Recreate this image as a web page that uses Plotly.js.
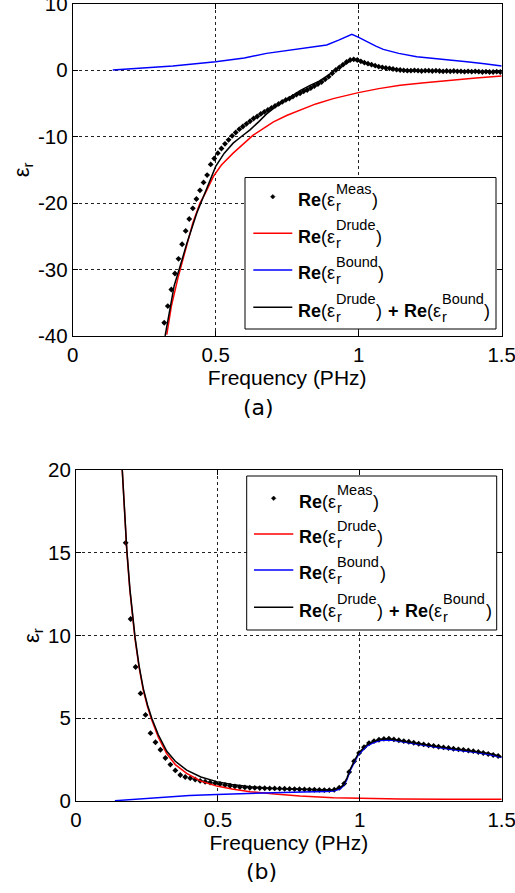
<!DOCTYPE html>
<html><head><meta charset="utf-8">
<script src="https://cdn.plot.ly/plotly-3.0.1.min.js"></script>
<style>html,body{margin:0;padding:0;background:#fff}#chart{width:515px;height:893px}</style>
</head><body><div id="chart"></div>
<script>
// ---------- Panel (a): real part, measured ----------
const freqMeasA = [0.3200,0.3325,0.3450,0.3575,0.3700,0.3825,0.3950,0.4075,0.4200,0.4325,
0.4450,0.4575,0.4700,0.4825,0.4950,0.5075,0.5200,0.5325,0.5450,0.5575,
0.5700,0.5825,0.5950,0.6075,0.6200,0.6325,0.6450,0.6575,0.6700,0.6825,
0.6950,0.7075,0.7200,0.7325,0.7450,0.7575,0.7700,0.7825,0.7950,0.8075,
0.8200,0.8325,0.8450,0.8575,0.8700,0.8825,0.8950,0.9075,0.9200,0.9325,
0.9450,0.9575,0.9700,0.9825,0.9950,1.0075,1.0200,1.0325,1.0450,1.0575,
1.0700,1.0825,1.0950,1.1075,1.1200,1.1325,1.1450,1.1575,1.1700,1.1825,
1.1950,1.2075,1.2200,1.2325,1.2450,1.2575,1.2700,1.2825,1.2950,1.3075,
1.3200,1.3325,1.3450,1.3575,1.3700,1.3825,1.3950,1.4075,1.4200,1.4325,
1.4450,1.4575,1.4700,1.4825,1.4950];
const measA = [-38.0,-35.5,-33.0,-30.6,-28.4,-26.2,-24.2,-22.4,-20.8,-19.4,
-18.1,-16.9,-15.8,-14.2,-13.3,-12.5,-11.8,-11.1,-10.5,-9.9,
-9.4,-8.9,-8.5,-8.1,-7.7,-7.3,-7.0,-6.6,-6.3,-6.0,
-5.7,-5.4,-5.1,-4.8,-4.5,-4.3,-4.0,-3.7,-3.5,-3.2,
-3.0,-2.7,-2.4,-2.1,-1.8,-1.4,-1.0,-0.5,0.0,0.4,
0.8,1.2,1.5,1.6,1.5,1.3,1.1,0.95,0.8,0.65,
0.5,0.4,0.3,0.25,0.15,0.05,0.0,-0.05,-0.1,-0.1,
-0.05,-0.1,-0.15,-0.1,-0.1,-0.15,-0.1,-0.15,-0.2,-0.15,
-0.2,-0.15,-0.2,-0.2,-0.25,-0.2,-0.25,-0.2,-0.25,-0.3,
-0.25,-0.3,-0.3,-0.25,-0.3];

// Panel (a): Drude model
const freqDrudeA = [0.329,0.345,0.369,0.399,0.420,0.445,0.463,0.492,0.520,0.561,0.600,0.631,0.670,0.702,0.750,0.795,0.850,0.911,0.950,0.999,1.070,1.145,1.230,1.319,1.410,1.500];
const drudeA = [-39.8,-35.5,-31.1,-26.1,-23.0,-20.0,-18.6,-16.0,-14.3,-12.5,-11.0,-9.8,-8.7,-7.8,-6.8,-6.0,-5.1,-4.3,-3.9,-3.4,-2.8,-2.3,-1.9,-1.5,-1.2,-0.9];

// Panel (a): bound electrons
const freqBoundA = [0.140,0.250,0.350,0.500,0.600,0.678,0.750,0.820,0.888,0.930,0.976,1.000,1.028,1.060,1.086,1.140,1.203,1.280,1.378,1.440,1.500];
const boundA = [0.0,0.3,0.6,1.25,1.8,2.5,2.9,3.3,3.76,4.5,5.37,4.9,4.26,3.6,3.1,2.5,2.0,1.7,1.25,0.95,0.6];

// Panel (a): Drude + bound
const freqSumA = [0.323,0.340,0.355,0.375,0.399,0.434,0.457,0.480,0.500,0.530,0.561,0.590,0.620,0.650,0.678,0.710,0.736,0.770,0.795,0.830,0.860,0.882,0.900,0.923,0.950,0.976,1.000,1.030,1.060,1.090,1.120,1.150,1.200,1.300,1.400,1.500];
const sumA = [-40.0,-35.6,-32.4,-29.6,-26.1,-21.5,-19.0,-16.8,-14.5,-12.5,-11.0,-10.0,-9.0,-7.8,-6.6,-5.5,-4.7,-3.8,-3.1,-2.3,-1.7,-1.1,-0.6,0.2,0.9,1.5,1.4,1.0,0.6,0.35,0.15,0.0,-0.1,-0.15,-0.25,-0.3];

// ---------- Panel (b) ----------
const freqMeasB = [0.1750,0.1925,0.2100,0.2275,0.2450,0.2625,0.2800,0.2975,0.3150,0.3325,
0.3500,0.3675,0.3850,0.4025,0.4200,0.4375,0.4550,0.4725,0.4900,0.5075,
0.5250,0.5425,0.5600,0.5775,0.5950,0.6125,0.6300,0.6475,0.6650,0.6825,
0.7000,0.7175,0.7350,0.7525,0.7700,0.7875,0.8050,0.8225,0.8400,0.8575,
0.8750,0.8925,0.9100,0.9275,0.9450,0.9625,0.9800,0.9975,1.0150,1.0325,
1.0500,1.0675,1.0850,1.1025,1.1200,1.1375,1.1550,1.1725,1.1900,1.2075,
1.2250,1.2425,1.2600,1.2775,1.2950,1.3125,1.3300,1.3475,1.3650,1.3825,
1.4000,1.4175,1.4350,1.4525,1.4700,1.4875];
const measB = [15.6,11.0,8.1,6.5,5.2,4.1,3.55,3.1,2.6,2.2,
1.85,1.57,1.45,1.38,1.3,1.22,1.16,1.12,1.08,1.03,
0.97,0.92,0.88,0.84,0.82,0.8,0.79,0.78,0.77,0.76,
0.76,0.75,0.74,0.73,0.72,0.71,0.7,0.69,0.68,0.67,
0.66,0.66,0.68,0.8,1.05,1.75,2.4,2.9,3.25,3.5,
3.62,3.7,3.75,3.76,3.72,3.67,3.62,3.58,3.52,3.46,
3.42,3.37,3.33,3.28,3.24,3.2,3.16,3.12,3.09,3.05,
3.01,2.96,2.9,2.84,2.78,2.72];

const freqDrudeB = [0.163,0.179,0.190,0.208,0.222,0.237,0.252,0.267,0.290,0.320,0.350,0.390,0.440,0.496,0.550,0.613,0.700,0.789,0.907,1.000,1.142,1.300,1.500];
const drudeB = [20.0,15.1,12.7,9.8,8.1,6.7,5.7,4.9,3.85,2.85,2.2,1.67,1.2,0.9,0.72,0.56,0.42,0.3,0.2,0.16,0.12,0.11,0.1];

const freqBoundB = [0.137,0.200,0.250,0.320,0.400,0.496,0.580,0.672,0.800,0.880,0.907,0.930,0.942,0.955,0.965,0.980,0.995,1.010,1.024,1.045,1.071,1.095,1.118,1.160,1.200,1.260,1.318,1.370,1.412,1.460,1.500];
const boundB = [0.02,0.1,0.17,0.26,0.33,0.4,0.45,0.5,0.55,0.58,0.6,0.72,0.9,1.3,1.8,2.3,2.8,3.05,3.3,3.5,3.65,3.69,3.67,3.55,3.43,3.28,3.13,3.03,2.93,2.8,2.63];

const freqSumB = [0.163,0.179,0.190,0.208,0.222,0.237,0.252,0.267,0.290,0.320,0.350,0.390,0.440,0.496,0.550,0.613,0.700,0.789,0.860,0.907,0.930,0.942,0.955,0.965,0.980,0.995,1.010,1.024,1.045,1.071,1.095,1.118,1.160,1.200,1.260,1.318,1.370,1.412,1.460,1.500];
const sumB = [20.0,15.2,12.8,9.9,8.2,6.8,5.8,5.0,4.0,3.0,2.4,1.87,1.45,1.17,1.0,0.86,0.76,0.7,0.66,0.66,0.8,0.97,1.4,1.87,2.4,2.88,3.15,3.38,3.58,3.72,3.76,3.72,3.6,3.48,3.33,3.18,3.08,2.98,2.85,2.68];

// tick labels
const xTicks = [0, 0.5, 1, 1.5];
const xTickText = ['0', '0.5', '1', '1.5'];
const yTicksA = [-40, -30, -20, -10, 0, 10];
const yTickTextA = ['-40', '-30', '-20', '-10', '0', '10'];
const yTicksB = [0, 5, 10, 15, 20];
const yTickTextB = ['0', '5', '10', '15', '20'];

// ---------- layout helpers ----------
const W = 515, H = 893;
const FONT = 'Liberation Sans, Arial, sans-serif';
const px = v => v / W;
const py = v => 1 - v / H;

const RED = '#ff0000', BLUE = '#0000ff', BLACK = '#000000';

function lineTrace(x, y, color, xa, ya) {
  return {x, y, xaxis: xa, yaxis: ya, type: 'scatter', mode: 'lines',
    line: {color, width: 1.5}, showlegend: false, hoverinfo: 'skip'};
}
function dotTrace(x, y, xa, ya) {
  return {x, y, xaxis: xa, yaxis: ya, type: 'scatter', mode: 'markers',
    marker: {symbol: 'diamond', size: 4.5, color: BLACK}, showlegend: false, hoverinfo: 'skip'};
}

const data = [
  dotTrace(freqMeasA, measA, 'x', 'y'),
  lineTrace(freqDrudeA, drudeA, RED, 'x', 'y'),
  lineTrace(freqBoundA, boundA, BLUE, 'x', 'y'),
  lineTrace(freqSumA, sumA, BLACK, 'x', 'y'),
  dotTrace(freqMeasB, measB, 'x2', 'y2'),
  lineTrace(freqDrudeB, drudeB, RED, 'x2', 'y2'),
  lineTrace(freqBoundB, boundB, BLUE, 'x2', 'y2'),
  lineTrace(freqSumB, sumB, BLACK, 'x2', 'y2')
];

function xAxis(domain, anchor) {
  return {domain, anchor, range: [0, 1.5], tickvals: xTicks, ticktext: xTickText,
    ticks: 'inside', ticklen: 5, tickcolor: '#000', showline: true, linecolor: '#000', linewidth: 1,
    mirror: 'ticks', showgrid: true, gridcolor: '#222', griddash: 'dot', gridwidth: 1, zeroline: false,
    ticklabeloverflow: 'allow',
    tickfont: {family: FONT, size: 20.5, color: '#000'},
    title: {text: 'Frequency (PHz)', font: {family: FONT, size: 21, color: '#000'}, standoff: 1},
    fixedrange: true};
}
function yAxis(domain, anchor, range, tv, tt) {
  return {domain, anchor, range, tickvals: tv, ticktext: tt,
    ticks: 'inside', ticklen: 5, tickcolor: '#000', showline: true, linecolor: '#000', linewidth: 1,
    mirror: 'ticks', showgrid: true, gridcolor: '#222', griddash: 'dot', gridwidth: 1, zeroline: false,
    ticklabeloverflow: 'allow',
    tickfont: {family: FONT, size: 20.5, color: '#000'},
    title: {text: 'ε<sub>r</sub>', font: {family: FONT, size: 22, color: '#000'}, standoff: 2},
    fixedrange: true};
}

// ---------- custom legends (stacked sub/superscripts) ----------
const ctx = document.createElement('canvas').getContext('2d');
function tw(t, size, bold) {
  ctx.font = (bold ? 'bold ' : '') + size + 'px "Liberation Sans"';
  return ctx.measureText(t).width;
}
const MAIN = 18, SCR = 14.5;
function txt(t, x, baseline, size, bold) {
  return {xref: 'paper', yref: 'paper', x: px(x), y: py(baseline - 0.3465 * size),
    xanchor: 'left', yanchor: 'middle', showarrow: false, borderpad: 0, borderwidth: 0,
    text: bold ? '<b>' + t + '</b>' : t, font: {family: FONT, size, color: '#000'}};
}
function addRow(anns, x0, base, parts) {
  let x = x0;
  parts.forEach(p => {
    if (p.gap !== undefined) { x += p.gap; return; }
    if (p.sup !== undefined) {
      anns.push(txt(p.sup, x, base - 12.5, SCR, false));
      anns.push(txt(p.sub, x, base + 5, SCR, false));
      x += Math.max(tw(p.sup, SCR, false), tw(p.sub, SCR, false)) + 1;
    } else {
      anns.push(txt(p.t, x, base, MAIN, p.b));
      x += tw(p.t, MAIN, p.b);
    }
  });
}
const sp = tw(' ', MAIN, true) + 0.5;
const rowDefs = [
  [{t: 'Re', b: true}, {t: '(ε'}, {gap: 1}, {sup: 'Meas', sub: 'r'}, {t: ')'}],
  [{t: 'Re', b: true}, {t: '(ε'}, {gap: 1}, {sup: 'Drude', sub: 'r'}, {t: ')'}],
  [{t: 'Re', b: true}, {t: '(ε'}, {gap: 1}, {sup: 'Bound', sub: 'r'}, {t: ')'}],
  [{t: 'Re', b: true}, {t: '(ε'}, {gap: 1}, {sup: 'Drude', sub: 'r'}, {t: ')'}, {gap: sp},
   {t: '+', b: true}, {gap: sp}, {t: 'Re', b: true}, {t: '(ε'}, {gap: 1}, {sup: 'Bound', sub: 'r'}, {t: ')'}]
];
const rowKinds = ['dot', RED, BLUE, BLACK];

const annotations = [];
const shapes = [];
function legend(box, rowsY, lineX0, lineX1, textX) {
  shapes.push({type: 'rect', xref: 'paper', yref: 'paper', x0: px(box[0]), x1: px(box[1]),
    y0: py(box[3]), y1: py(box[2]), line: {color: '#000', width: 1}, fillcolor: '#fff', layer: 'above'});
  rowsY.forEach((ly, i) => {
    const k = rowKinds[i];
    if (k === 'dot') {
      const cx = (lineX0 + lineX1) / 2, r = 2.3;
      shapes.push({type: 'path', xref: 'paper', yref: 'paper', layer: 'above',
        path: `M ${px(cx - r)} ${py(ly)} L ${px(cx)} ${py(ly - r)} L ${px(cx + r)} ${py(ly)} L ${px(cx)} ${py(ly + r)} Z`,
        fillcolor: '#000', line: {color: '#000', width: 0.5}});
    } else {
      shapes.push({type: 'line', xref: 'paper', yref: 'paper', layer: 'above',
        x0: px(lineX0), x1: px(lineX1), y0: py(ly), y1: py(ly), line: {color: k, width: 1.5}});
    }
    addRow(annotations, textX, ly + 9.5, rowDefs[i]);
  });
}
legend([245, 496, 177.5, 329], [196.7, 233.3, 270, 307.3], 253.3, 292.3, 297.5);
legend([246.7, 496.7, 476, 630], [498.3, 534, 570, 607.3], 254, 293.3, 298.8);

// captions
annotations.push({xref: 'paper', yref: 'paper', x: px(258), y: py(407), xanchor: 'center', yanchor: 'middle',
  showarrow: false, text: '(a)', font: {family: 'DejaVu Sans, sans-serif', size: 22, color: '#000'}});
annotations.push({xref: 'paper', yref: 'paper', x: px(261), y: py(871), xanchor: 'center', yanchor: 'middle',
  showarrow: false, text: '(b)', font: {family: 'DejaVu Sans, sans-serif', size: 22, color: '#000'}});

const layout = {
  width: W, height: H, margin: {l: 0, r: 0, t: 0, b: 0},
  paper_bgcolor: '#fff', plot_bgcolor: '#fff', showlegend: false,
  xaxis: xAxis([px(72.7), px(501.7)], 'y'),
  yaxis: yAxis([py(336), py(3.5)], 'x', [-40, 10], yTicksA, yTickTextA),
  xaxis2: xAxis([px(76), px(501.7)], 'y2'),
  yaxis2: yAxis([py(801), py(470)], 'x2', [0, 20], yTicksB, yTickTextB),
  shapes, annotations
};

Plotly.newPlot('chart', data, layout, {staticPlot: true, displayModeBar: false});
</script></body></html>
